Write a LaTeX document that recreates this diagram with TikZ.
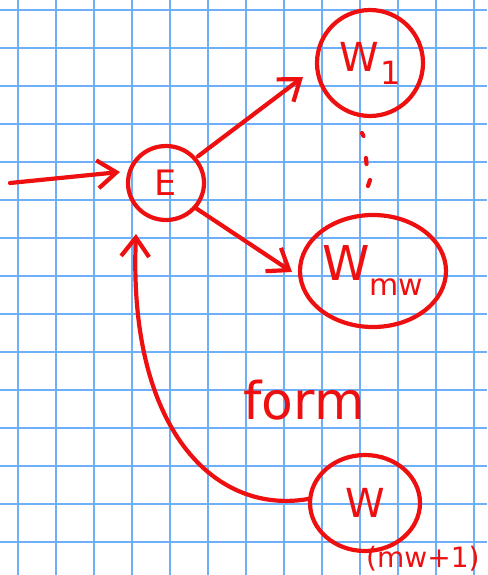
\documentclass[tikz,border=0pt]{standalone}
\usepackage{fontspec}
\setmainfont{DejaVu Sans}
\usetikzlibrary{arrows.meta,shapes.geometric}
\definecolor{gridblue}{RGB}{110,175,250}
\definecolor{ink}{RGB}{238,16,16}
\begin{document}
\begin{tikzpicture}[x=1pt,y=-1pt,
  pen/.style={draw=ink,line width=4.2pt,line cap=round,line join=round},
  tip/.style={-{Straight Barb[length=19pt,width=28pt,line width=4.2pt]}},
  bubble/.style={pen,ellipse,inner sep=0pt,text=ink},
  lbl/.style={text=ink,inner sep=0pt}]
  % paper
  \fill[white] (0,0) rectangle (487,575);
  \useasboundingbox (0,0) rectangle (487,575);
  % grid of the squared paper
  \foreach \gx in {0,...,12} \draw[gridblue,line width=2pt] (18+38*\gx,0) -- (18+38*\gx,575);
  \foreach \gy in {0,...,14} \draw[gridblue,line width=2pt] (0,10+38*\gy) -- (487,10+38*\gy);

  % nodes
  \node[bubble,minimum width=76pt,minimum height=74pt,font=\fontsize{35}{35}\selectfont] (e) at (166,183) {E};
  \node[bubble,minimum width=106pt,minimum height=106pt,font=\fontsize{40}{40}\selectfont] (w1) at (370,63) {W\kern1pt\raisebox{-13pt}{\fontsize{32}{32}\selectfont 1}};
  \node[bubble,minimum width=146pt,minimum height=112pt,font=\fontsize{48}{48}\selectfont] (wm) at (373,271) {W\kern-1pt\raisebox{-15pt}{\fontsize{30}{30}\selectfont mw}};
  \node[bubble,minimum width=110pt,minimum height=96pt,font=\fontsize{40}{40}\selectfont] (wl) at (365,503) {W};

  % labels
  \node[lbl,font=\fontsize{52}{52}\selectfont] (form) at (304,400) {form};
  \node[lbl,anchor=west,font=\fontsize{28}{28}\selectfont] (cnt) at (366,559) {(mw+1)};

  % vertical ellipsis between the first and the last worker
  \coordinate (d1) at (362,133);
  \coordinate (d2) at (366,158);
  \coordinate (d3) at (370,180);
  \draw[pen] (d1) -- ++(1.5,3);
  \draw[pen] (d2) -- ++(0.5,6);
  \draw[pen] (d3) -- ++(-2,6);

  % connectors
  \coordinate (src) at (10,183);
  \coordinate (etip) at (136,234);
  \draw[pen,tip] (src) -- (120,172) ;
  \draw[pen,tip,shorten <=2pt] (e.40) -- (303,77);
  \draw[pen,tip] (e.-40) -- (292,272);
  \draw[pen,tip] (wl.176) .. controls (215,515) and (128,430) .. (etip);
\end{tikzpicture}
\end{document}
